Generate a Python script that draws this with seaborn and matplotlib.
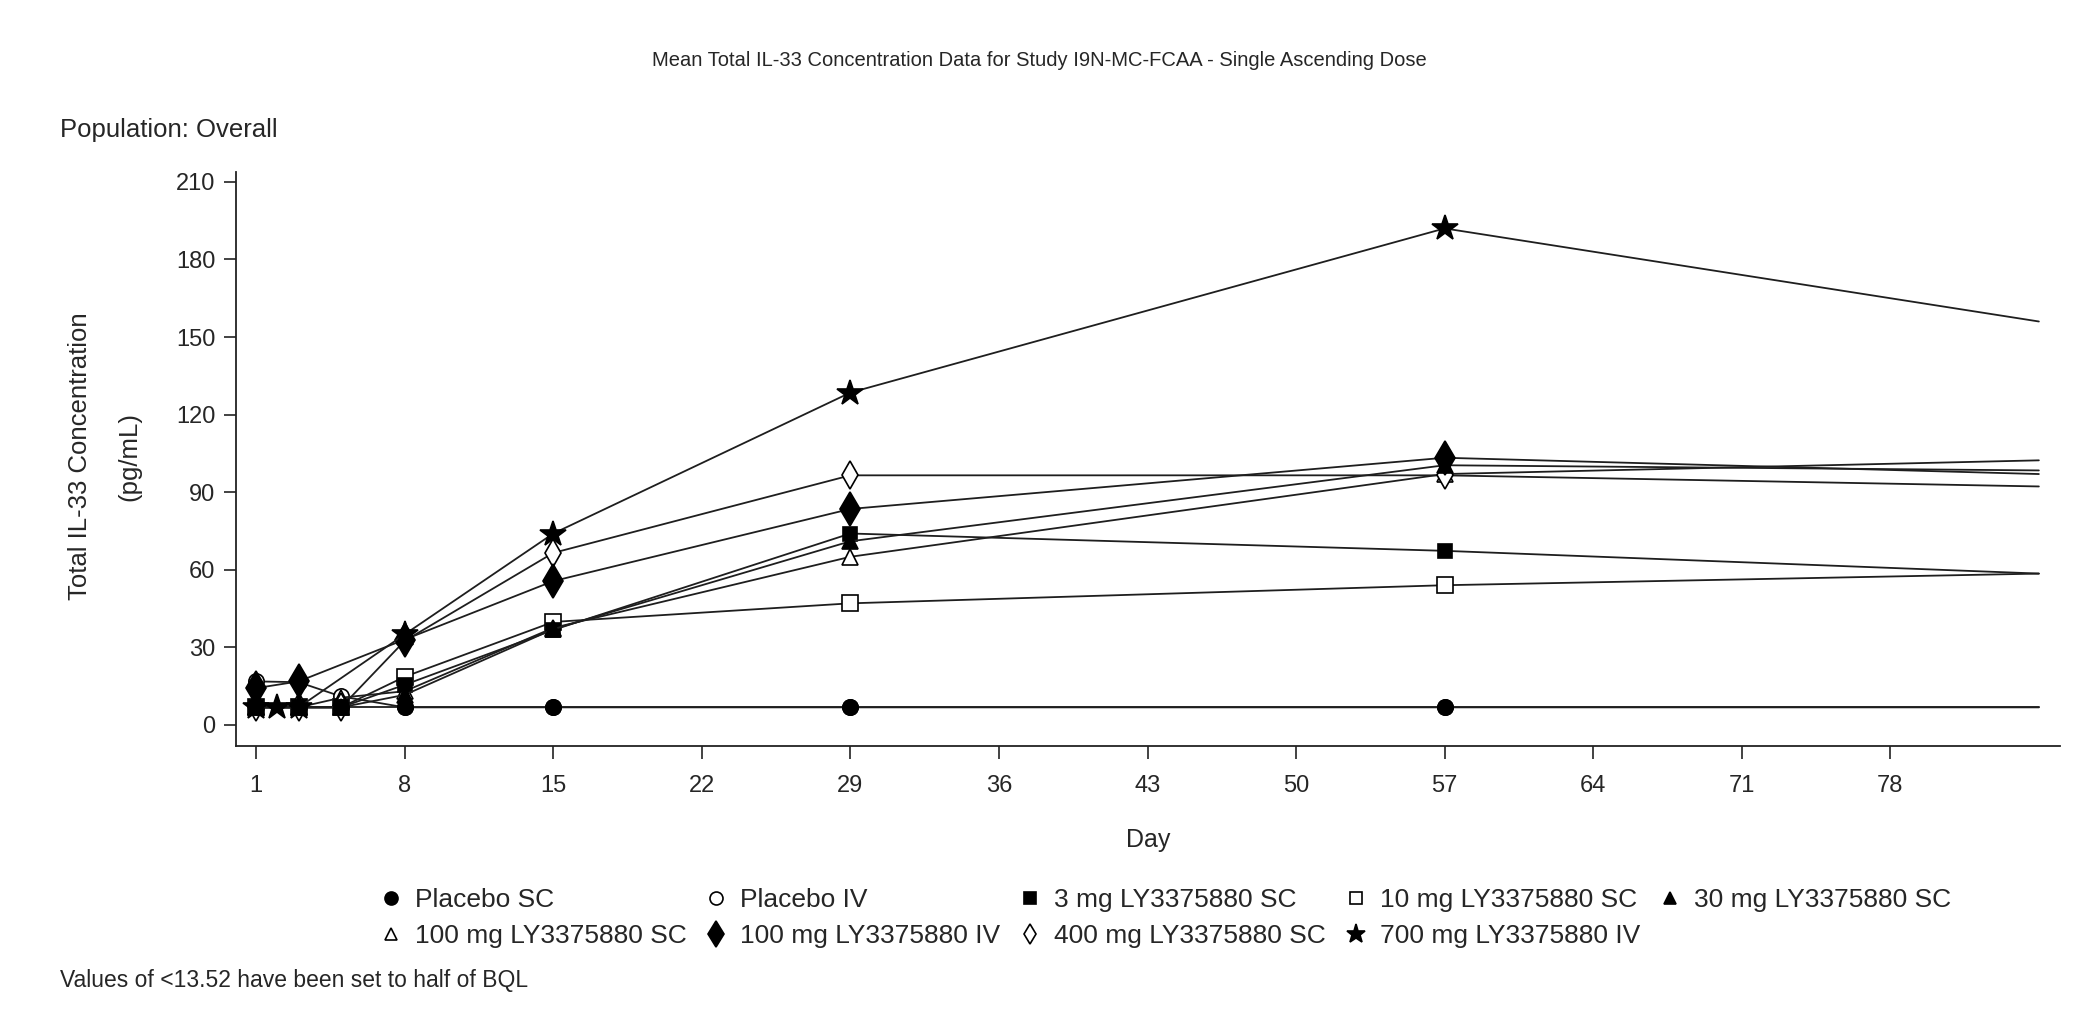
import matplotlib
matplotlib.use("Agg")
import matplotlib.pyplot as plt
from matplotlib.lines import Line2D
import seaborn as sns

# Daten (pg/mL)
days_iv = [1, 2, 3, 8, 15, 29, 57, 85]
days_sc = [1, 3, 5, 8, 15, 29, 57, 85]
days_d = [1, 3, 8, 15, 29, 57, 85]

placebo_sc = [6.76, 6.76, 6.76, 6.76, 6.76, 6.76, 6.76, 6.76]
placebo_iv = [16.8, 16.5, 11.0, 6.76, 6.76, 6.76, 6.76, 6.76]
mg3_sc = [6.76, 6.76, 6.76, 15.5, 36.7, 74.0, 67.3, 58.5]
mg10_sc = [6.76, 6.76, 6.76, 18.6, 39.8, 47.0, 54.0, 58.5]
mg30_sc = [6.76, 6.76, 6.76, 11.6, 37.0, 71.0, 100.4, 98.4]
mg100_sc = [6.76, 6.76, 10.5, 13.0, 37.5, 65.0, 97.0, 102.3]
mg100_iv = [14.2, 16.8, 33.0, 55.6, 83.5, 103.3, 97.0]
mg400_sc = [6.76, 6.76, 6.76, 32.5, 66.5, 96.5, 96.5, 92.2]
mg700_iv = [6.76, 6.76, 6.76, 35.0, 74.0, 128.5, 192.0, 156.0]

labels = ["Placebo SC", "Placebo IV", "3 mg LY3375880 SC", "10 mg LY3375880 SC",
          "30 mg LY3375880 SC", "100 mg LY3375880 SC", "100 mg LY3375880 IV",
          "400 mg LY3375880 SC", "700 mg LY3375880 IV"]
x_ticks = [1, 8, 15, 22, 29, 36, 43, 50, 57, 64, 71, 78]
y_ticks = [0, 30, 60, 90, 120, 150, 180, 210]

# (Tage, Werte, Marker, gefüllt, Größe)
series = [
    (days_sc, placebo_sc, "o", True, 11),
    (days_sc, placebo_iv, "o", False, 11),
    (days_sc, mg3_sc, "s", True, 10.5),
    (days_sc, mg10_sc, "s", False, 11),
    (days_sc, mg30_sc, "^", True, 11),
    (days_sc, mg100_sc, "^", False, 11),
    (days_d, mg100_iv, "d", True, 17),
    (days_sc, mg400_sc, "d", False, 14),
    (days_iv, mg700_iv, "*", True, 19),
]

sns.set_style("ticks")
plt.rcParams["font.family"] = ["Liberation Sans", "DejaVu Sans"]

fig = plt.figure(figsize=(20.83, 10.21), dpi=100)
ax = fig.add_axes([0.1133, 0.2693, 0.8757, 0.5627])

line_col = "#1e1e1e"
# offene Marker zuerst, gefüllte darüber
draw_order = [1, 3, 5, 7, 2, 4, 6, 0, 8]
for i in draw_order:
    d, v, m, filled, ms = series[i]
    sns.lineplot(x=d, y=v, ax=ax, color=line_col, linewidth=1.3,
                 marker=m, markersize=ms, markevery=list(range(len(d) - 1)),
                 markerfacecolor="black" if filled else "white",
                 markeredgecolor="black", markeredgewidth=1.2,
                 label=labels[i], legend=False)

ax.set_xlim(0.05, 86)
ax.set_ylim(-8.2, 214)
ax.set_xticks(x_ticks)
ax.set_yticks(y_ticks)
ax.tick_params(axis="both", labelsize=17, length=9, width=1.2, direction="out",
               color="#222222")
ax.tick_params(axis="x", pad=12)
ax.tick_params(axis="y", pad=6)
sns.despine(ax=ax)
for sp in ["left", "bottom"]:
    ax.spines[sp].set_linewidth(1.3)
    ax.spines[sp].set_color("#222222")
ax.set_xlabel("Day", fontsize=18, labelpad=22)
ax.set_ylabel("")

fig.text(0.0385, 0.553, "Total IL-33 Concentration", rotation=90, fontsize=18.5,
         ha="center", va="center")
fig.text(0.062, 0.553, "(pg/mL)", rotation=90, fontsize=18.5,
         ha="center", va="center")

fig.text(0.499, 0.941,
         "Mean Total IL-33 Concentration Data for Study I9N-MC-FCAA - Single Ascending Dose",
         fontsize=14.5, ha="center", va="center")
fig.text(0.029, 0.873, "Population: Overall", fontsize=18.5, ha="left", va="center")
fig.text(0.029, 0.040, "Values of <13.52 have been set to half of BQL", fontsize=16.5,
         ha="left", va="center")

# Legende zeilenweise anordnen
handles = []
for (d, v, m, filled, ms) in series:
    handles.append(Line2D([], [], linestyle="none", marker=m,
                          markersize=ms * 0.75 if m in ("d", "*") else ms * 0.85,
                          markerfacecolor="black" if filled else "white",
                          markeredgecolor="black", markeredgewidth=1.2))
order = [0, 5, 1, 6, 2, 7, 3, 8, 4]
fig.legend([handles[i] for i in order], [labels[i] for i in order],
           loc="center", bbox_to_anchor=(0.559, 0.101), ncol=5, frameon=False,
           fontsize=19, handletextpad=0.41, columnspacing=0.63, labelspacing=0.45,
           handlelength=1.0)

fig.savefig("out.png", dpi=100)
